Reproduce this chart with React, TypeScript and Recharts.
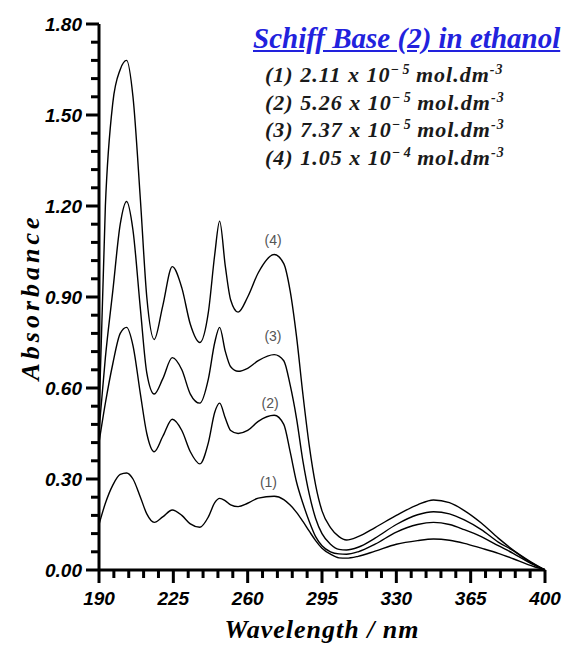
import { LineChart, Line, XAxis, YAxis, ReferenceDot } from "recharts";

const wavelength = [
  190, 193, 196.5, 200, 203, 206, 209.5, 212.5, 216, 220, 224.5, 229, 233, 237.5, 241.5,
  244.5, 246.8, 249.5, 252, 255.5, 260, 265, 272.5, 277, 280, 283, 286, 289, 292, 295,
  299, 303, 306.5, 312, 320, 330, 340, 347.5, 355, 362, 370, 378, 385, 392, 400,
];

const curve1 = [
  0.15, 0.22, 0.28, 0.315, 0.32, 0.3, 0.24, 0.185, 0.157, 0.175, 0.198, 0.18, 0.152, 0.141, 0.175,
  0.222, 0.236, 0.228, 0.215, 0.209, 0.22, 0.237, 0.243, 0.232, 0.214, 0.19, 0.16, 0.128, 0.097, 0.072,
  0.052, 0.04, 0.039, 0.045, 0.062, 0.085, 0.097, 0.102, 0.098, 0.088, 0.072, 0.055, 0.037, 0.018, 0,
];

const curve2 = [
  0.42, 0.55, 0.68, 0.78, 0.8, 0.74, 0.58, 0.45, 0.39, 0.44, 0.497, 0.46, 0.39, 0.35, 0.42,
  0.52, 0.55, 0.5, 0.46, 0.45, 0.46, 0.49, 0.51, 0.48, 0.39, 0.29, 0.22, 0.16, 0.11, 0.08,
  0.06, 0.053, 0.052, 0.06, 0.085, 0.125, 0.15, 0.157, 0.15, 0.133, 0.11, 0.08, 0.055, 0.027, 0,
];

const curve3 = [
  0.46, 0.7, 0.92, 1.14, 1.215, 1.12, 0.86, 0.65, 0.58, 0.63, 0.7, 0.66, 0.58, 0.55, 0.63,
  0.75, 0.8, 0.72, 0.67, 0.655, 0.665, 0.69, 0.71, 0.69, 0.61, 0.5, 0.36, 0.25, 0.17, 0.12,
  0.085, 0.068, 0.066, 0.075, 0.105, 0.15, 0.182, 0.192, 0.185, 0.165, 0.133, 0.092, 0.064, 0.03, 0,
];

const curve4 = [
  0.5, 1.2, 1.54, 1.65, 1.68, 1.56, 1.22, 0.9, 0.76, 0.87, 1.0, 0.93, 0.81, 0.75, 0.85,
  1.04, 1.15, 1.0, 0.89, 0.85, 0.9, 0.98, 1.04, 1.01, 0.92, 0.77, 0.58, 0.41, 0.28, 0.195,
  0.14, 0.11, 0.099, 0.11, 0.14, 0.18, 0.215, 0.231, 0.222, 0.196, 0.155, 0.105, 0.066, 0.033, 0,
];

const curveNames = ["(1)", "(2)", "(3)", "(4)"];
const labelWavelength = [269.8, 270.6, 271.9, 272];
const labelAbsorbance = [0.291, 0.551, 0.77, 1.089];

const legendRows = [
  { id: "(1)", mant: "2.11", exp: "\u2212 5" },
  { id: "(2)", mant: "5.26", exp: "\u2212 5" },
  { id: "(3)", mant: "7.37", exp: "\u2212 5" },
  { id: "(4)", mant: "1.05", exp: "\u2212 4" },
];

const xMajorTicks = [190, 225, 260, 295, 330, 365, 400];
const yMajorTicks = [0, 0.3, 0.6, 0.9, 1.2, 1.5, 1.8];

// minor ticks: every 7 nm and every 0.06
const xTicks = Array.from({ length: 31 }, (_, i) => 190 + 7 * i);
const yTicks = Array.from({ length: 31 }, (_, i) => Number((i * 0.06).toFixed(2)));

const data = wavelength.map((w, i) => ({
  w,
  c1: curve1[i],
  c2: curve2[i],
  c3: curve3[i],
  c4: curve4[i],
}));

const tickFont = {
  fontFamily: '"Liberation Sans", Arial, sans-serif',
  fontStyle: "italic",
  fontWeight: "bold",
  fontSize: 19,
};

const serif = '"Liberation Serif", "Times New Roman", serif';

const XTick = (props: any) => {
  const { x, y, payload } = props;
  const v = payload.value;
  const major = xMajorTicks.includes(v);
  return (
    <g>
      <line x1={x} x2={x} y1={y} y2={y + (major ? 13 : 8)} stroke="#000" strokeWidth={3} />
      {major && (
        <text x={x} y={y + 35} textAnchor="middle" fill="#000" {...tickFont}>
          {v}
        </text>
      )}
    </g>
  );
};

const YTick = (props: any) => {
  const { x, y, payload } = props;
  const v = payload.value;
  const major = yMajorTicks.some((t) => Math.abs(t - v) < 1e-6);
  return (
    <g>
      <line x1={x - (major ? 13 : 8)} x2={x} y1={y} y2={y} stroke="#000" strokeWidth={3} />
      {major && (
        <text x={x - 17} y={y + 7} textAnchor="end" fill="#000" {...tickFont}>
          {v.toFixed(2)}
        </text>
      )}
    </g>
  );
};

const YTitle = (props: any) => {
  const vb = props.viewBox || {};
  const cx = 30;
  const cy = (vb.y ?? 24) + (vb.height ?? 546) / 2;
  return (
    <text
      x={cx}
      y={cy}
      transform={`rotate(-90 ${cx} ${cy})`}
      textAnchor="middle"
      dominantBaseline="central"
      fill="#000"
      fontFamily={serif}
      fontStyle="italic"
      fontWeight="bold"
      fontSize={26}
      letterSpacing={4}
    >
      Absorbance
    </text>
  );
};

export default function App() {
  const keys = ["c1", "c2", "c3", "c4"];
  return (
    <div style={{ position: "absolute", left: 0, top: 0, width: 563, height: 648, background: "#fff" }}>
      <LineChart
        width={563}
        height={648}
        data={data}
        margin={{ top: 24, right: 18, bottom: 8, left: 4 }}
      >
        <XAxis
          dataKey="w"
          type="number"
          domain={[190, 400]}
          ticks={xTicks}
          interval={0}
          height={70}
          tickLine={false}
          tickSize={0}
          tickMargin={0}
          axisLine={{ stroke: "#000", strokeWidth: 3 }}
          tick={<XTick />}
          label={{
            value: "Wavelength / nm",
            position: "insideBottom",
            offset: 2,
            fill: "#000",
            fontFamily: serif,
            fontStyle: "italic",
            fontWeight: "bold",
            fontSize: 26,
            letterSpacing: 1,
          }}
        />
        <YAxis
          type="number"
          domain={[0, 1.8]}
          ticks={yTicks}
          interval={0}
          width={95}
          tickLine={false}
          tickSize={0}
          tickMargin={0}
          axisLine={{ stroke: "#000", strokeWidth: 3 }}
          tick={<YTick />}
          label={{ content: <YTitle /> }}
        />
        {keys.map((k) => (
          <Line
            key={k}
            dataKey={k}
            type="monotone"
            stroke="#000"
            strokeWidth={1.4}
            dot={false}
            isAnimationActive={false}
          />
        ))}
        {curveNames.map((n, i) => (
          <ReferenceDot
            key={n}
            x={labelWavelength[i]}
            y={labelAbsorbance[i]}
            r={1}
            fill="none"
            stroke="none"
            label={{
              value: n,
              position: "center",
              fill: "#555",
              fontFamily: '"Liberation Sans", Arial, sans-serif',
              fontSize: 14,
            }}
          />
        ))}
      </LineChart>
      <div
        style={{
          position: "absolute",
          left: 253,
          top: 22,
          fontFamily: serif,
          fontStyle: "italic",
          fontWeight: "bold",
          fontSize: 29,
          lineHeight: "32px",
          color: "#2222dd",
          textDecoration: "underline",
          whiteSpace: "nowrap",
        }}
      >
        Schiff Base (2) in ethanol
      </div>
      {legendRows.map((r, i) => (
        <div
          key={r.id}
          style={{
            position: "absolute",
            left: 265,
            top: 61 + i * 27.7,
            fontFamily: serif,
            fontStyle: "italic",
            fontWeight: "bold",
            fontSize: 22,
            letterSpacing: 1,
            lineHeight: "28px",
            color: "#1a1a1a",
            whiteSpace: "nowrap",
          }}
        >
          {r.id} {r.mant} x 10
          <span style={{ fontSize: 14, position: "relative", top: -8, letterSpacing: 0 }}>{r.exp}</span>
          {" "}mol.dm
          <span style={{ fontSize: 14, position: "relative", top: -8 }}>-3</span>
        </div>
      ))}
    </div>
  );
}
